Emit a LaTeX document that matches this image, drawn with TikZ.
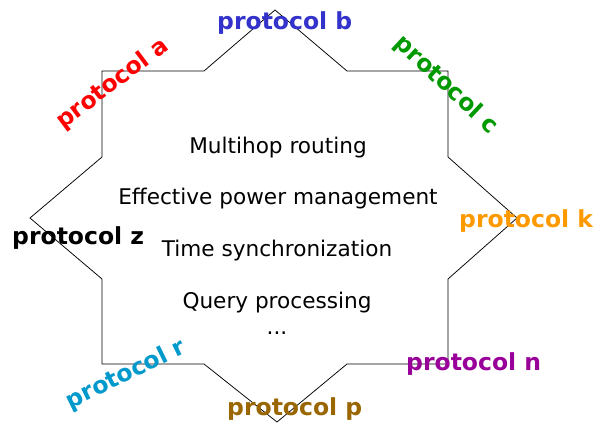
\documentclass[tikz,border=0pt]{standalone}
\usepackage{fontspec}
\setmainfont{DejaVu Sans}
\definecolor{pa}{RGB}{255,0,0}
\definecolor{pb}{RGB}{51,51,204}
\definecolor{pc}{RGB}{0,153,0}
\definecolor{pk}{RGB}{255,153,0}
\definecolor{pz}{RGB}{0,0,0}
\definecolor{pr}{RGB}{0,153,204}
\definecolor{pp}{RGB}{153,102,0}
\definecolor{pn}{RGB}{153,0,153}
\begin{document}
\begin{tikzpicture}[x=1pt,y=-1pt,
  lab/.style={font=\bfseries\fontsize{23.5}{23.5}\selectfont, inner sep=0pt},
  body/.style={font=\fontsize{21.6}{21.6}\selectfont, inner sep=0pt, anchor=base},
  star/.style={draw=black, line width=0.75pt, line join=miter}]
\useasboundingbox (0,0) rectangle (595,423);
% star outline
\coordinate (t1) at (275,10);
\coordinate (t2) at (347,71);
\coordinate (t3) at (448,71);
\coordinate (t4) at (448,157);
\coordinate (t5) at (517,218);
\coordinate (t6) at (448,279);
\coordinate (t7) at (448,364);
\coordinate (t8) at (347,364);
\coordinate (t9) at (277,422);
\coordinate (t10) at (204,364);
\coordinate (t11) at (102,364);
\coordinate (t12) at (102,279);
\coordinate (t13) at (30,218);
\coordinate (t14) at (102,157);
\coordinate (t15) at (102,71);
\coordinate (t16) at (204,71);
\draw[star] (t1) -- (t2) -- (t3) -- (t4) -- (t5) -- (t6) -- (t7) -- (t8) -- (t9)
  -- (t10) -- (t11) -- (t12) -- (t13) -- (t14) -- (t15) -- (t16) -- cycle;
% centre text
\node[body] (l1) at (278,153) {Multihop routing};
\node[body] (l2) at (278,204) {Effective power management};
\node[body] (l3) at (277,256) {Time synchronization};
\node[body] (l4) at (277,308) {Query processing};
\node[body] (l5) at (277,334) {...};
% protocol labels
\node[lab, text=pb, anchor=base west] (pb) at (217,30) {protocol b};
\node[lab, text=pz, anchor=base west] (pz) at (12,244) {protocol z};
\node[lab, text=pk, anchor=base west] (pk) at (459,227) {protocol k};
\node[lab, text=pn, anchor=base west] (pn) at (406,370) {protocol n};
\node[lab, text=pp, anchor=base west] (pp) at (227,415) {protocol p};
\node[lab, text=pa, rotate=37] (pa) at (113,84) {protocol a};
\node[lab, text=pc, rotate=-43] (pc) at (446,85) {protocol c};
\node[lab, text=pr, rotate=26] (pr) at (126,375) {protocol r};
\end{tikzpicture}
\end{document}
